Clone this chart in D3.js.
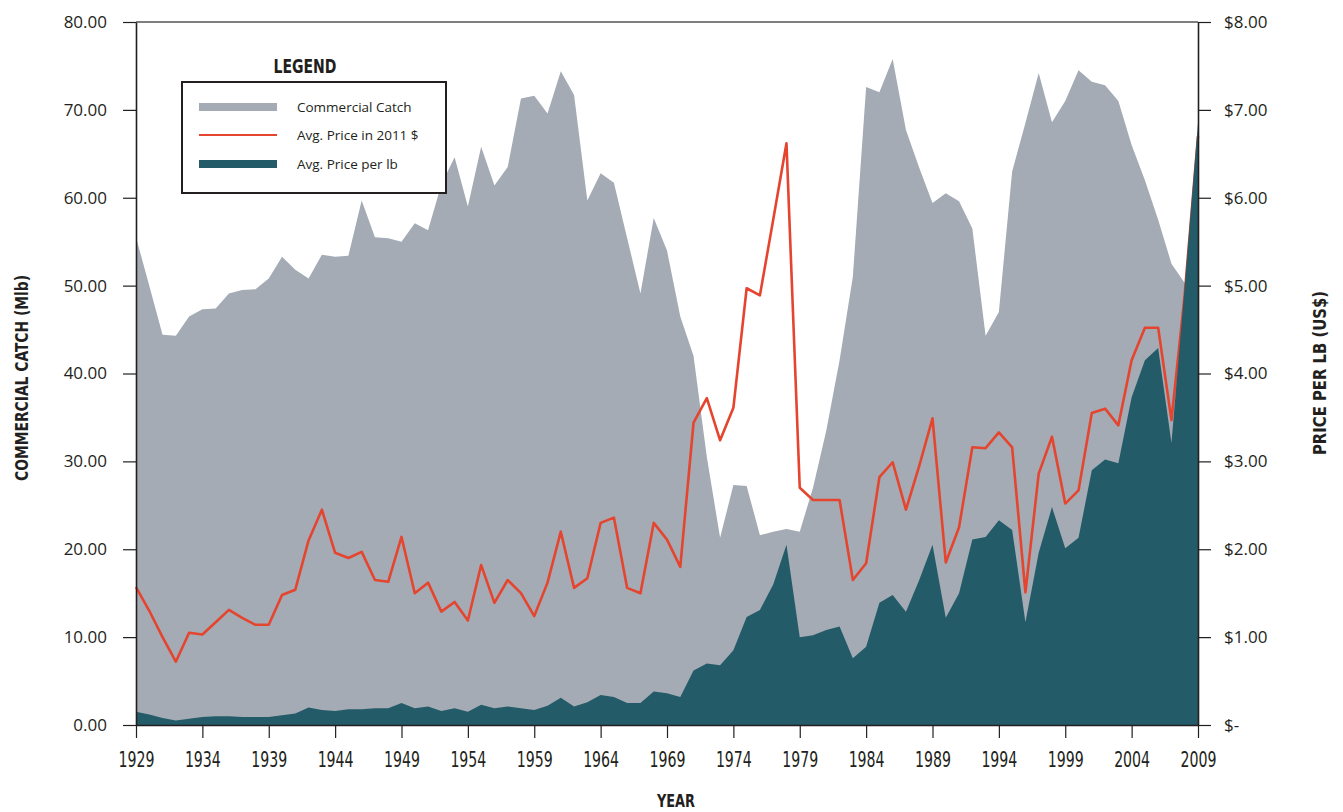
<!DOCTYPE html>
<html>
<head>
<meta charset="utf-8">
<script src="https://cdn.jsdelivr.net/npm/d3@7"></script>
<style>
  body { margin: 0; background: #fff; }
  .tick-label { font-family: "Open Sans", sans-serif; font-size: 17px; fill: #231f20; }
  .year-label { font-family: "Liberation Sans Narrow", "DejaVu Sans Condensed", "Open Sans", sans-serif; font-size: 21px; fill: #231f20; }
  .title { font-family: "Liberation Sans Narrow", "DejaVu Sans Condensed", sans-serif; font-weight: bold; font-size: 17px; fill: #231f20; }
  .legend-text { font-family: "Open Sans", sans-serif; font-size: 13.5px; fill: #231f20; }
</style>
</head>
<body>
<script>
'use strict';

var chart = {};

chart.width = 1343;
chart.height = 812;
chart.left = 136;
chart.right = 1198;
chart.top = 22;
chart.bottom = 725;

var firstYear = 1929;
var lastYear = 2009;
var yearTicks = [1929, 1934, 1939, 1944, 1949, 1954, 1959, 1964, 1969, 1974, 1979, 1984, 1989, 1994, 1999, 2004, 2009];
var catchTicks = [0, 10, 20, 30, 40, 50, 60, 70, 80];
var priceTicks = [0, 1, 2, 3, 4, 5, 6, 7, 8];

// commercial catch, million lb
var catchMlb = [
    55.5, 50.0, 44.4, 44.3, 46.5, 47.3, 47.4, 49.1, 49.5, 49.6,   // 1929-1938
    50.8, 53.3, 51.8, 50.8, 53.5, 53.3, 53.4, 59.7, 55.5, 55.4,   // 1939-1948
    55.0, 57.1, 56.3, 61.5, 64.6, 59.0, 65.8, 61.4, 63.5, 71.3,   // 1949-1958
    71.6, 69.6, 74.4, 71.7, 59.7, 62.8, 61.7, 55.4, 49.1, 57.7,   // 1959-1968
    54.0, 46.5, 42.0, 30.5, 21.3, 27.3, 27.2, 21.6, 22.0, 22.3,   // 1969-1978
    22.0, 27.0, 33.5, 41.5, 51.0, 72.6, 72.0, 75.8, 67.7, 63.4,   // 1979-1988
    59.4, 60.5, 59.6, 56.5, 44.3, 47.0, 63.0, 68.5, 74.2, 68.6,   // 1989-1998
    71.0, 74.5, 73.2, 72.8, 71.0, 66.0, 62.0, 57.5, 52.5, 50.3,   // 1999-2008
    48.0                                                           // 2009
];

// average price in 2011 dollars
var priceReal = [
    1.57, 1.30, 1.00, 0.72, 1.05, 1.03, 1.17, 1.31, 1.22, 1.14,
    1.14, 1.48, 1.54, 2.10, 2.45, 1.96, 1.90, 1.97, 1.65, 1.63,
    2.14, 1.50, 1.62, 1.29, 1.40, 1.19, 1.82, 1.39, 1.65, 1.50,
    1.24, 1.62, 2.20, 1.56, 1.67, 2.30, 2.36, 1.56, 1.50, 2.30,
    2.11, 1.80, 3.44, 3.72, 3.24, 3.61, 4.97, 4.89, 5.75, 6.62,
    2.70, 2.56, 2.56, 2.56, 1.65, 1.84, 2.82, 2.99, 2.45, 2.95,
    3.49, 1.85, 2.25, 3.16, 3.15, 3.33, 3.16, 1.51, 2.86, 3.28,
    2.52, 2.67, 3.55, 3.60, 3.41, 4.15, 4.52, 4.52, 3.47, 4.90,
    6.70
];

// average price per lb, nominal
var priceNominal = [
    0.15, 0.12, 0.08, 0.05, 0.07, 0.09, 0.10, 0.10, 0.09, 0.09,
    0.09, 0.11, 0.13, 0.20, 0.17, 0.16, 0.18, 0.18, 0.19, 0.19,
    0.25, 0.19, 0.21, 0.16, 0.19, 0.15, 0.23, 0.19, 0.21, 0.19,
    0.17, 0.22, 0.31, 0.21, 0.26, 0.34, 0.32, 0.25, 0.25, 0.38,
    0.36, 0.32, 0.62, 0.70, 0.68, 0.85, 1.23, 1.31, 1.60, 2.05,
    1.00, 1.02, 1.08, 1.12, 0.76, 0.89, 1.39, 1.48, 1.29, 1.65,
    2.05, 1.22, 1.50, 2.11, 2.14, 2.33, 2.22, 1.17, 1.96, 2.48,
    2.01, 2.13, 2.90, 3.02, 2.98, 3.73, 4.15, 4.29, 3.21, 5.00,
    6.85
];

var legendLabels = ["Commercial Catch", "Avg. Price in 2011 $", "Avg. Price per lb"];

chart.colors = { catch: "#a4abb5", real: "#e5452e", nominal: "#245b68", ink: "#231f20" };

chart.rows = function(){
    return catchMlb.map(function(d, i){
        return { year: firstYear + i, catch: d, real: priceReal[i], nominal: priceNominal[i] };
    });
}

chart.scales = function(){
    var x = d3.scaleLinear().domain([firstYear, lastYear]).range([chart.left, chart.right]);
    var yCatch = d3.scaleLinear().domain([0, 80]).range([chart.bottom, chart.top]);
    var yPrice = d3.scaleLinear().domain([0, 8]).range([chart.bottom, chart.top]);
    return { x: x, yCatch: yCatch, yPrice: yPrice };
}

chart.drawSeries = function(svg, s, rows){
    var catchArea = d3.area()
        .x(function(d){ return s.x(d.year); })
        .y0(s.yCatch(0))
        .y1(function(d){ return s.yCatch(d.catch); });

    var realLine = d3.line()
        .x(function(d){ return s.x(d.year); })
        .y(function(d){ return s.yPrice(d.real); });

    var nominalArea = d3.area()
        .x(function(d){ return s.x(d.year); })
        .y0(s.yPrice(0))
        .y1(function(d){ return s.yPrice(d.nominal); });

    svg.append("path").datum(rows).attr("d", catchArea).attr("fill", chart.colors.catch);
    svg.append("path").datum(rows).attr("d", realLine)
        .attr("fill", "none").attr("stroke", chart.colors.real)
        .attr("stroke-width", 2.6).attr("stroke-linejoin", "round");
    svg.append("path").datum(rows).attr("d", nominalArea).attr("fill", chart.colors.nominal);
}

chart.drawAxes = function(svg, s){
    // top frame line
    svg.append("line")
        .attr("x1", chart.left).attr("x2", chart.right)
        .attr("y1", chart.top).attr("y2", chart.top)
        .attr("stroke", "#555").attr("stroke-width", 1.5);

    var left = svg.append("g").attr("transform", "translate(" + chart.left + ",0)")
        .call(d3.axisLeft(s.yCatch).tickValues(catchTicks).tickSize(13).tickSizeOuter(0).tickPadding(16)
            .tickFormat(function(d){ return d.toFixed(2); }));

    var right = svg.append("g").attr("transform", "translate(" + chart.right + ",0)")
        .call(d3.axisRight(s.yPrice).tickValues(priceTicks).tickSize(13).tickSizeOuter(0).tickPadding(13)
            .tickFormat(function(d){ return d === 0 ? "$-" : "$" + d.toFixed(2); }));

    var bottom = svg.append("g").attr("transform", "translate(0," + chart.bottom + ")")
        .call(d3.axisBottom(s.x).tickValues(yearTicks).tickSize(13).tickSizeOuter(0).tickPadding(11)
            .tickFormat(function(d){ return String(d); }));

    [left, right, bottom].forEach(function(g){
        g.select(".domain").attr("stroke", chart.colors.ink).attr("stroke-width", 1.6);
        g.selectAll(".tick line").attr("stroke", chart.colors.ink).attr("stroke-width", 1.2);
        g.attr("font-family", null).attr("font-size", null);
    });
    left.selectAll(".tick text").attr("class", "tick-label");
    right.selectAll(".tick text").attr("class", "tick-label");
    bottom.selectAll(".tick text").attr("class", "year-label").attr("dy", "0.85em")
        .attr("textLength", 36).attr("lengthAdjust", "spacingAndGlyphs");

    svg.append("text").attr("class", "title")
        .attr("transform", "translate(28,378) rotate(-90)")
        .attr("text-anchor", "middle")
        .attr("textLength", 206).attr("lengthAdjust", "spacingAndGlyphs")
        .text("COMMERCIAL CATCH (Mlb)");

    svg.append("text").attr("class", "title")
        .attr("transform", "translate(1326,373) rotate(-90)")
        .attr("text-anchor", "middle")
        .attr("textLength", 164).attr("lengthAdjust", "spacingAndGlyphs")
        .text("PRICE PER LB (US$)");

    svg.append("text").attr("class", "title")
        .attr("x", 676).attr("y", 807)
        .attr("text-anchor", "middle")
        .attr("textLength", 38).attr("lengthAdjust", "spacingAndGlyphs")
        .text("YEAR");
}

chart.drawLegend = function(svg){
    var g = svg.append("g");

    g.append("text").attr("class", "title")
        .attr("x", 305).attr("y", 73)
        .attr("text-anchor", "middle")
        .style("font-size", "20px")
        .attr("textLength", 63).attr("lengthAdjust", "spacingAndGlyphs")
        .text("LEGEND");

    g.append("rect")
        .attr("x", 182).attr("y", 82).attr("width", 264).attr("height", 111)
        .attr("fill", "#fff").attr("stroke", chart.colors.ink).attr("stroke-width", 2);

    var rowY = [107, 135, 164];

    g.append("rect").attr("x", 199).attr("y", rowY[0] - 4).attr("width", 78).attr("height", 8)
        .attr("fill", chart.colors.catch);
    g.append("line").attr("x1", 199).attr("x2", 277).attr("y1", rowY[1]).attr("y2", rowY[1])
        .attr("stroke", chart.colors.real).attr("stroke-width", 2);
    g.append("rect").attr("x", 199).attr("y", rowY[2] - 4).attr("width", 78).attr("height", 8)
        .attr("fill", chart.colors.nominal);

    g.selectAll(".legend-text")
        .data(legendLabels)
        .enter()
            .append("text")
            .attr("class", "legend-text")
            .attr("x", 297)
            .attr("y", function(d, i){ return rowY[i] + 5; })
            .text(function(d){ return d; });
}

chart.run = function(){
    var svg = d3.select("body").append("svg")
        .attr("width", chart.width)
        .attr("height", chart.height);

    var s = chart.scales();
    chart.drawSeries(svg, s, chart.rows());
    chart.drawAxes(svg, s);
    chart.drawLegend(svg);
}

window.onload = chart.run;
</script>
</body>
</html>
